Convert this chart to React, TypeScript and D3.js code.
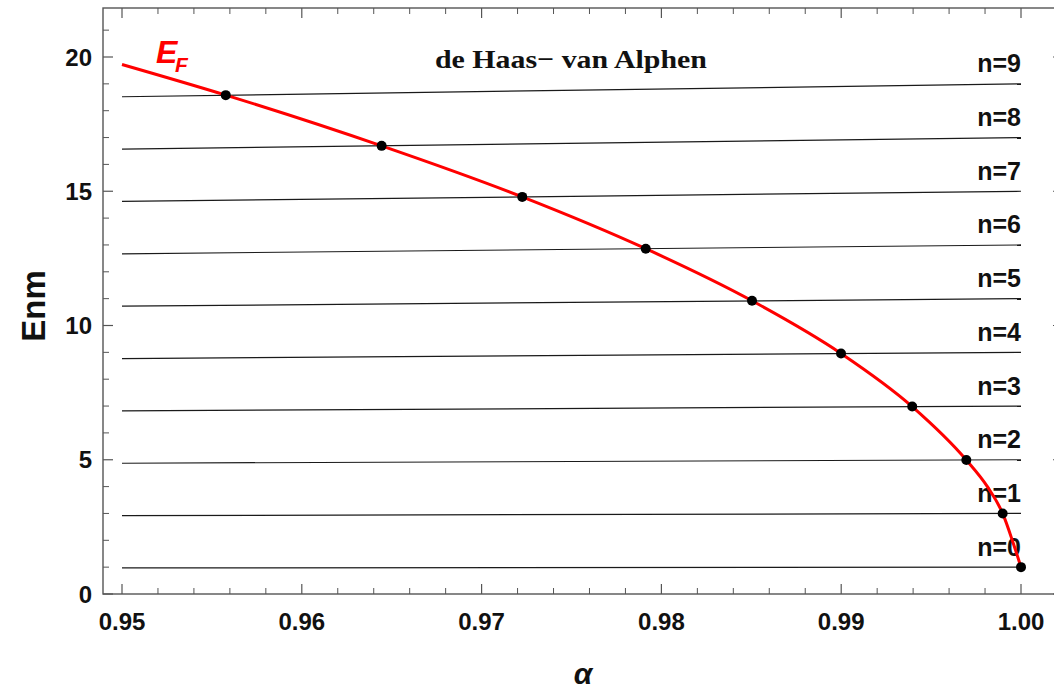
import React from 'react';
import * as d3 from 'd3';

// Landau levels n = 0..9, energy read at alpha = 0.95 and alpha = 1.00
const levelN = [0, 1, 2, 3, 4, 5, 6, 7, 8, 9];
const levelStart = [0.97, 2.92, 4.87, 6.82, 8.77, 10.72, 12.67, 14.62, 16.57, 18.52];
const levelEnd = [1, 3, 5, 7, 9, 11, 13, 15, 17, 19];

// crossings of the levels with E_F (black dots)
const crossAlpha = [0.95577, 0.96444, 0.97226, 0.97913, 0.98504, 0.98999, 0.99395, 0.99696, 0.99898, 1.0];
const crossE = [18.58, 16.69, 14.79, 12.86, 10.92, 8.96, 6.98, 4.99, 3.0, 1.0];

// Fermi energy curve (red)
const efAlpha = [0.95, 0.95577, 0.96444, 0.97226, 0.97913, 0.98504, 0.98999, 0.99395, 0.99696, 0.99813, 0.99898, 0.99957, 1.0];
const efE = [19.72, 18.58, 16.69, 14.79, 12.86, 10.92, 8.96, 6.98, 4.99, 4.0, 3.0, 1.89, 1.0];

// axis ticks
const xTicks = [0.95, 0.96, 0.97, 0.98, 0.99, 1.0];
const xTickLabels = ['0.95', '0.96', '0.97', '0.98', '0.99', '1.00'];
const yTicks = [0, 5, 10, 15, 20];
const yTickLabels = ['0', '5', '10', '15', '20'];

const W = 1054;
const H = 693;
const frame = { left: 103, right: 1063, top: 8, bottom: 594 };
const sans = '"Liberation Sans", Arial, sans-serif';
const axisGray = '#555';

export default function App() {
  const x = d3.scaleLinear().domain([0.95, 1.0]).range([122, 1021]);
  const y = d3.scaleLinear().domain([0, 20]).range([594, 57]);

  const xMinor = d3.range(0, 27).map(i => 0.95 + i * 0.002).filter(v => Math.abs(v * 100 - Math.round(v * 100)) > 1e-6);
  const yMinor = d3.range(0, 22).filter(v => v % 5 !== 0);

  const efLine = d3.line<number>()
    .x((_, i) => x(efAlpha[i]))
    .y(d => y(d))
    .curve(d3.curveMonotoneX);

  return (
    <svg width={W} height={H} style={{ position: 'absolute', left: 0, top: 0, background: '#fff' }}>
      {/* Landau levels */}
      {levelN.map((n, i) => (
        <g key={n}>
          <line x1={x(0.95)} x2={x(1.0)} y1={y(levelStart[i])} y2={y(levelEnd[i])} stroke="#1a1a1a" strokeWidth={1.2} />
          <text x={x(1.0)} y={y(levelEnd[i]) - 11.5} textAnchor="end" fontFamily={sans} fontWeight="bold" fontSize={25} fill="#111">
            n={n}
          </text>
        </g>
      ))}

      {/* E_F curve */}
      <path d={efLine(efE) || ''} fill="none" stroke="#ff0000" strokeWidth={3} />
      {crossAlpha.map((a, i) => (
        <circle key={i} cx={x(a)} cy={y(crossE[i])} r={5} fill="#000" />
      ))}

      {/* frame */}
      <rect x={frame.left} y={frame.top} width={frame.right - frame.left} height={frame.bottom - frame.top}
        fill="none" stroke={axisGray} strokeWidth={1.4} />

      {/* x ticks, bottom and top */}
      {xTicks.map(v => (
        <g key={'xm' + v}>
          <line x1={x(v)} x2={x(v)} y1={frame.bottom} y2={frame.bottom - 10} stroke={axisGray} strokeWidth={1.2} />
          <line x1={x(v)} x2={x(v)} y1={frame.top} y2={frame.top + 10} stroke={axisGray} strokeWidth={1.2} />
        </g>
      ))}
      {xMinor.map(v => (
        <g key={'xn' + v}>
          <line x1={x(v)} x2={x(v)} y1={frame.bottom} y2={frame.bottom - 6} stroke={axisGray} strokeWidth={1} />
          <line x1={x(v)} x2={x(v)} y1={frame.top} y2={frame.top + 6} stroke={axisGray} strokeWidth={1} />
        </g>
      ))}
      {xTicks.map((v, i) => (
        <text key={'xl' + v} x={x(v)} y={630} textAnchor="middle" fontFamily={sans} fontWeight="bold" fontSize={24} fill="#111">
          {xTickLabels[i]}
        </text>
      ))}

      {/* y ticks, left and right */}
      {yTicks.map(v => (
        <g key={'ym' + v}>
          <line x1={frame.left} x2={frame.left + 10} y1={y(v)} y2={y(v)} stroke={axisGray} strokeWidth={1.2} />
          <line x1={frame.right} x2={frame.right - 10} y1={y(v)} y2={y(v)} stroke={axisGray} strokeWidth={1.2} />
        </g>
      ))}
      {yMinor.map(v => (
        <g key={'yn' + v}>
          <line x1={frame.left} x2={frame.left + 6} y1={y(v)} y2={y(v)} stroke={axisGray} strokeWidth={1} />
          <line x1={frame.right} x2={frame.right - 6} y1={y(v)} y2={y(v)} stroke={axisGray} strokeWidth={1} />
        </g>
      ))}
      {yTicks.map((v, i) => (
        <text key={'yl' + v} x={92} y={y(v)} dy="0.36em" textAnchor="end" fontFamily={sans} fontWeight="bold" fontSize={24} fill="#111">
          {yTickLabels[i]}
        </text>
      ))}

      {/* axis titles */}
      <text transform="translate(33,306) rotate(-90)" dy="0.36em" textAnchor="middle" fontFamily={sans} fontWeight="bold" fontSize={33} fill="#111">
        Enm
      </text>
      <text x={583} y={684} textAnchor="middle" fontFamily={sans} fontWeight="bold" fontStyle="italic" fontSize={30} fill="#111">
        α
      </text>

      {/* title and E_F label */}
      <text x={571} y={68} textAnchor="middle" textLength={272} lengthAdjust="spacingAndGlyphs"
        fontFamily={'"Liberation Serif", "Times New Roman", serif'} fontWeight="bold" fontSize={26} fill="#111">
        de Haas− van Alphen
      </text>
      <text x={156} y={63} fontFamily={sans} fontWeight="bold" fontStyle="italic" fontSize={32} fill="#ff0000">E</text>
      <text x={175} y={72} fontFamily={sans} fontWeight="bold" fontStyle="italic" fontSize={21} fill="#ff0000">F</text>
    </svg>
  );
}
